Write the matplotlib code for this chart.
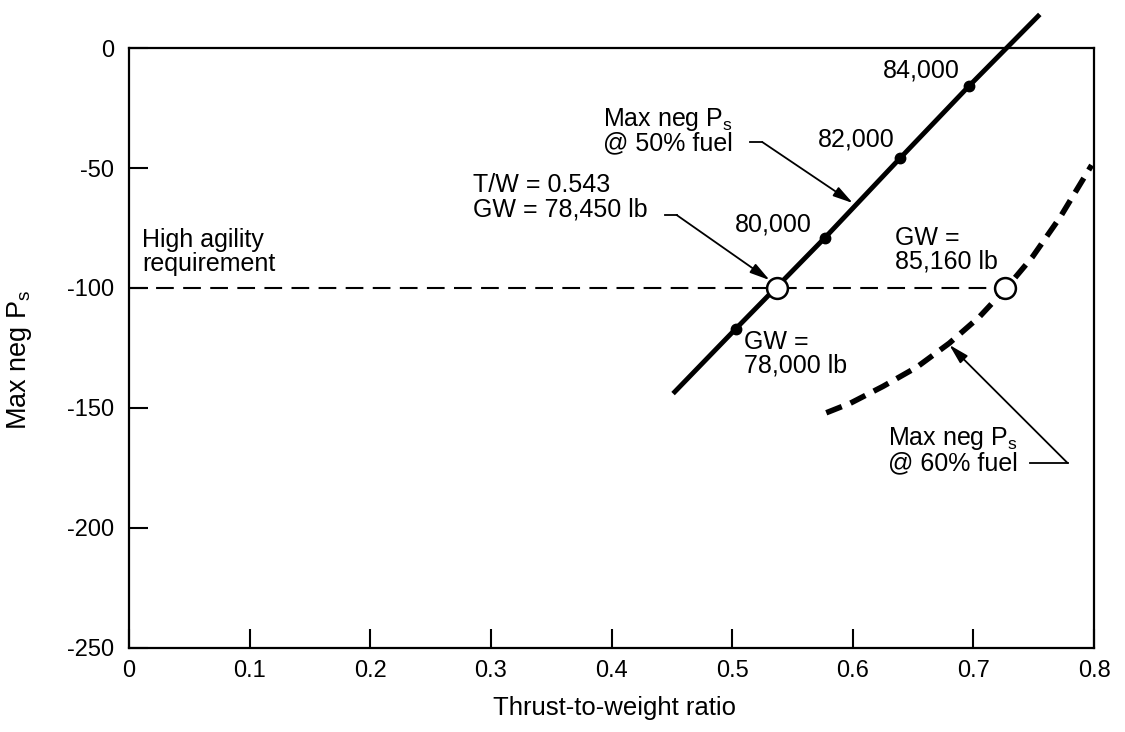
import matplotlib
matplotlib.use('Agg')
import matplotlib.pyplot as plt

plt.rcParams['font.family'] = ['Liberation Sans', 'DejaVu Sans']
plt.rcParams['mathtext.fontset'] = 'custom'
plt.rcParams['mathtext.rm'] = 'Liberation Sans'
plt.rcParams['mathtext.it'] = 'Liberation Sans:italic'
plt.rcParams['mathtext.bf'] = 'Liberation Sans:bold'
plt.rcParams['axes.unicode_minus'] = False

# Max neg Ps @ 50% fuel (solid line)
tw_50 = [0.451, 0.503, 0.577, 0.639, 0.696, 0.755]
ps_50 = [-144, -117, -79, -46, -16, 14]

# gross weight marks on the 50% fuel line
gw_tw = [0.503, 0.577, 0.639, 0.696]
gw_ps = [-117, -79, -46, -16]
gw_labels = ['GW =\n78,000 lb', '80,000', '82,000', '84,000']

# Max neg Ps @ 60% fuel (thick dashed curve)
tw_60 = [0.578, 0.598, 0.625, 0.653, 0.680, 0.705, 0.728, 0.749, 0.772, 0.798]
ps_60 = [-152, -148, -141, -133, -123, -112, -99.6, -87, -70.4, -48.8]

# high agility requirement and the two crossing points
req_ps = -100
cross_tw = [0.537, 0.726]
cross_labels = ['T/W = 0.543\nGW = 78,450 lb', 'GW =\n85,160 lb']

xticks = [0, 0.1, 0.2, 0.3, 0.4, 0.5, 0.6, 0.7, 0.8]
xticklabels = ['0', '0.1', '0.2', '0.3', '0.4', '0.5', '0.6', '0.7', '0.8']
yticks = [0, -50, -100, -150, -200, -250]

fig = plt.figure(figsize=(11.25, 7.32), dpi=100)
ax = fig.add_axes([0.1147, 0.1148, 0.8578, 0.8196])

fs = 18

ax.plot([0, cross_tw[1]], [req_ps, req_ps], color='black', lw=1.5,
        dashes=(8.5, 4.5), zorder=2)
ax.plot(tw_50, ps_50, color='black', lw=3.5, solid_capstyle='butt',
        clip_on=False, zorder=3)
ax.plot(tw_60, ps_60, color='black', lw=4, dashes=(3.0, 1.7), zorder=3)
ax.plot(gw_tw, gw_ps, 'o', color='black', ms=7.5, zorder=4)
ax.plot(cross_tw, [req_ps] * len(cross_tw), 'o', mfc='white', mec='black',
        mew=1.8, ms=15, zorder=5)

# weight labels
label_pos = [(0.510, -117.5), (0.502, -68.5), (0.571, -33), (0.625, -4.5)]
for (lx, ly), txt in zip(label_pos, gw_labels):
    ax.text(lx, ly, txt, fontsize=fs, ha='left', va='top', linespacing=1.0)

ax.text(0.285, -52, cross_labels[0], fontsize=fs, ha='left', va='top',
        linespacing=1.05)
ax.text(0.635, -74, cross_labels[1], fontsize=fs, ha='left', va='top',
        linespacing=1.0)
ax.text(0.011, -75, 'High agility\nrequirement', fontsize=fs, ha='left',
        va='top', linespacing=1.0)
ax.text(0.393, -24, 'Max neg P$_\\mathrm{s}$\n@ 50% fuel', fontsize=fs,
        ha='left', va='top', linespacing=0.95)
ax.text(0.629, -157, 'Max neg P$_\\mathrm{s}$\n@ 60% fuel', fontsize=fs,
        ha='left', va='top', linespacing=0.95)

# leader lines: short horizontal tail from the text, then arrow to the curve
arrow = dict(arrowstyle='-|>,head_length=0.6,head_width=0.16', color='black',
             lw=1.3, shrinkA=0, shrinkB=0, mutation_scale=20)
leaders = [((0.515, 0.525, -39.2), (0.600, -64.6)),
           ((0.444, 0.454, -69.6), (0.531, -96.7)),
           ((0.747, 0.778, -172.9), (0.680, -123.7))]
for (x0, x1, y0), tip in leaders:
    ax.plot([x0, x1], [y0, y0], color='black', lw=1.3)
    ax.annotate('', xy=tip, xytext=(x1, y0), arrowprops=arrow)

ax.set_xlim(0, 0.8)
ax.set_ylim(-250, 0)
ax.set_xticks(xticks)
ax.set_xticklabels(xticklabels)
ax.set_yticks(yticks)
ax.tick_params(direction='in', length=14, width=1.5, labelsize=17)
ax.tick_params(axis='x', pad=9)
ax.tick_params(axis='y', pad=11)
for s in ax.spines.values():
    s.set_linewidth(1.6)

ax.set_xlabel('Thrust-to-weight ratio', fontsize=18.5)
ax.set_ylabel('Max neg P$_\\mathrm{s}$', fontsize=19.5)
ax.xaxis.set_label_coords(0.5026, -0.08)
ax.yaxis.set_label_coords(-0.098, 0.48)

fig.savefig('out.png', dpi=100)
